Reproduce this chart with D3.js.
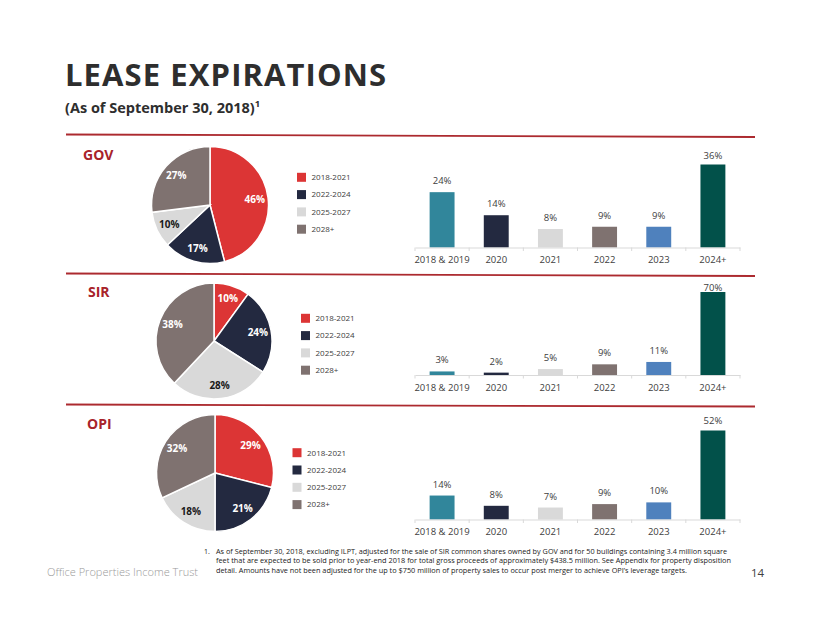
<!DOCTYPE html>
<html>
<head>
<meta charset="utf-8">
<script src="https://cdn.jsdelivr.net/npm/d3@7"></script>
<style>
  html, body { margin: 0; padding: 0; background: #ffffff; }
  svg { display: block; }
</style>
</head>
<body>
<svg id="chart" width="822" height="635"></svg>
<script>
// ---------------- DATA ----------------
const companies = ["GOV", "SIR", "OPI"];
const pieCategories = ["2018-2021", "2022-2024", "2025-2027", "2028+"];
const govPie = [46, 17, 10, 27];
const sirPie = [10, 24, 28, 38];
const opiPie = [29, 21, 18, 32];
const barCategories = ["2018 & 2019", "2020", "2021", "2022", "2023", "2024+"];
const govBars = [24, 14, 8, 9, 9, 36];
const sirBars = [3, 2, 5, 9, 11, 70];
const opiBars = [14, 8, 7, 9, 10, 52];
const titleText = "LEASE EXPIRATIONS";
const subtitleText = "(As of September 30, 2018)";
const footnoteLines = [
  "As of September 30, 2018, excluding ILPT, adjusted for the sale of SIR common shares owned by GOV and for 50 buildings containing 3.4 million square",
  "feet that are expected to be sold prior to year-end 2018 for total gross proceeds of approximately $438.5 million.  See Appendix for property disposition",
  "detail.  Amounts have not been adjusted for the up to $750 million of property sales to occur post merger to achieve OPI\u2019s leverage targets."
];
const footerText = "Office Properties Income Trust";
const pageNumber = "14";

// ---------------- STYLE / LAYOUT ----------------
const pieColors = ["#dc3535", "#232940", "#d9d9d9", "#7f7270"];
const pieLabelColors = ["#ffffff", "#ffffff", "#1a1a1a", "#ffffff"];
const barColors = ["#31869b", "#232940", "#d9d9d9", "#7f7270", "#4f81bd", "#02514a"];
const red = "#ac2a2f";
const font = "'Open Sans', 'DejaVu Sans', sans-serif";

const panels = [
  { name: companies[0], pie: govPie, bars: govBars, lineY: [134.5, 137], label: [83, 160],
    pieC: [210, 205], r: 58.5, legend: [297, 177.3], axisY: 247.5, plotH: 83, labelMin: 159 },
  { name: companies[1], pie: sirPie, bars: sirBars, lineY: [273.5, 276], label: [88, 297],
    pieC: [214, 341], r: 58, legend: [301, 318.3], axisY: 375, plotH: 83, labelMin: 291 },
  { name: companies[2], pie: opiPie, bars: opiBars, lineY: [404.5, 406.5], label: [87, 429],
    pieC: [215, 473], r: 58.5, legend: [292.5, 452.7], axisY: 519.5, plotH: 89, labelMin: 424 }
];

const svg = d3.select("#chart");

// Title
svg.append("text").attr("x", 65).attr("y", 86)
  .attr("font-family", font).attr("font-weight", 700).attr("font-size", 31)
  .attr("letter-spacing", 1.1).attr("fill", "#2e2e2e").text(titleText);
const sub = svg.append("text").attr("x", 65).attr("y", 113)
  .attr("font-family", font).attr("font-weight", 700).attr("font-size", 14.5)
  .attr("fill", "#2e2e2e");
sub.append("tspan").text(subtitleText);
sub.append("tspan").attr("font-size", 9.5).attr("dy", -6).text("1");

const x = d3.scaleBand().domain(barCategories).range([415, 740]).paddingInner(0.54).paddingOuter(0.27);
const xTicks = d3.scaleBand().domain(barCategories).range([415, 740]);

panels.forEach(p => {
  // separator line
  svg.append("line").attr("x1", 66).attr("x2", 755)
    .attr("y1", p.lineY[0]).attr("y2", p.lineY[1])
    .attr("stroke", red).attr("stroke-width", 1.8);

  // company label
  svg.append("text").attr("x", p.label[0]).attr("y", p.label[1])
    .attr("font-family", font).attr("font-weight", 700).attr("font-size", 14)
    .attr("fill", "#a8232a").text(p.name);

  // pie
  const pie = d3.pie().sort(null).value(d => d)(p.pie);
  const arc = d3.arc().innerRadius(0).outerRadius(p.r);
  const labelArc = d3.arc().innerRadius(p.r * 0.77).outerRadius(p.r * 0.77);
  const g = svg.append("g").attr("transform", `translate(${p.pieC[0]},${p.pieC[1]})`);
  g.selectAll("path").data(pie).join("path")
    .attr("d", arc).attr("fill", (d, i) => pieColors[i])
    .attr("stroke", "#ffffff").attr("stroke-width", 1.5);
  g.selectAll("text").data(pie).join("text")
    .attr("transform", d => `translate(${labelArc.centroid(d)})`)
    .attr("text-anchor", "middle").attr("dy", "0.36em")
    .attr("font-family", font).attr("font-weight", 700).attr("font-size", 10)
    .attr("fill", (d, i) => pieLabelColors[i])
    .text(d => d.data + "%");

  // legend
  const lg = svg.append("g").attr("transform", `translate(${p.legend[0]},${p.legend[1]})`);
  pieCategories.forEach((c, i) => {
    lg.append("rect").attr("x", 0).attr("y", i * 17.3 - 4.5).attr("width", 9).attr("height", 9)
      .attr("fill", pieColors[i]);
    lg.append("text").attr("x", 14.5).attr("y", i * 17.3).attr("dy", "0.35em")
      .attr("font-family", font).attr("font-size", 8).attr("fill", "#404040").text(c);
  });

  // bar chart
  const y = d3.scaleLinear().domain([0, d3.max(p.bars)]).range([p.axisY, p.axisY - p.plotH]);
  svg.append("g").selectAll("rect").data(p.bars).join("rect")
    .attr("x", (d, i) => x(barCategories[i]))
    .attr("width", x.bandwidth())
    .attr("y", d => y(d)).attr("height", d => p.axisY - y(d))
    .attr("fill", (d, i) => barColors[i]);
  svg.append("g").selectAll("text").data(p.bars).join("text")
    .attr("x", (d, i) => x(barCategories[i]) + x.bandwidth() / 2)
    .attr("y", d => Math.max(y(d) - 8, p.labelMin))
    .attr("text-anchor", "middle")
    .attr("font-family", font).attr("font-size", 9.5).attr("fill", "#404040")
    .text(d => d + "%");

  const axis = d3.axisBottom(xTicks).tickSize(0).tickPadding(9);
  const ag = svg.append("g").attr("transform", `translate(0,${p.axisY})`).call(axis);
  ag.select(".domain").attr("stroke", "#d9d9d9");
  ag.selectAll("text").attr("font-family", font).attr("font-size", 9.5).attr("fill", "#404040");
  // tick marks at band boundaries
  const bounds = barCategories.map(c => xTicks(c)).concat([740]);
  ag.selectAll(".bnd").data(bounds).join("line").attr("class", "bnd")
    .attr("x1", d => d).attr("x2", d => d).attr("y1", 0).attr("y2", 3.5)
    .attr("stroke", "#d9d9d9");
});

// footnote
const fn = svg.append("g").attr("font-family", "'Liberation Sans Narrow', 'Open Sans', sans-serif").attr("fill", "#1a1a1a");
fn.append("text").attr("x", 204).attr("y", 554).attr("font-size", 7).text("1.");
const fnEnds = [727, 731, 687];
footnoteLines.forEach((t, i) => {
  fn.append("text").attr("x", 216).attr("y", 554 + i * 9.3).attr("font-size", 7)
    .attr("textLength", fnEnds[i] - 216).attr("lengthAdjust", "spacingAndGlyphs").text(t);
});
svg.append("text").attr("x", 47).attr("y", 576).attr("font-family", font)
  .attr("font-size", 11).attr("font-weight", 300).attr("fill", "#9a9a9a")
  .attr("textLength", 151).attr("lengthAdjust", "spacingAndGlyphs").text(footerText);
svg.append("text").attr("x", 751).attr("y", 577).attr("font-family", font)
  .attr("font-size", 11.5).attr("fill", "#404040").text(pageNumber);
</script>
</body>
</html>
